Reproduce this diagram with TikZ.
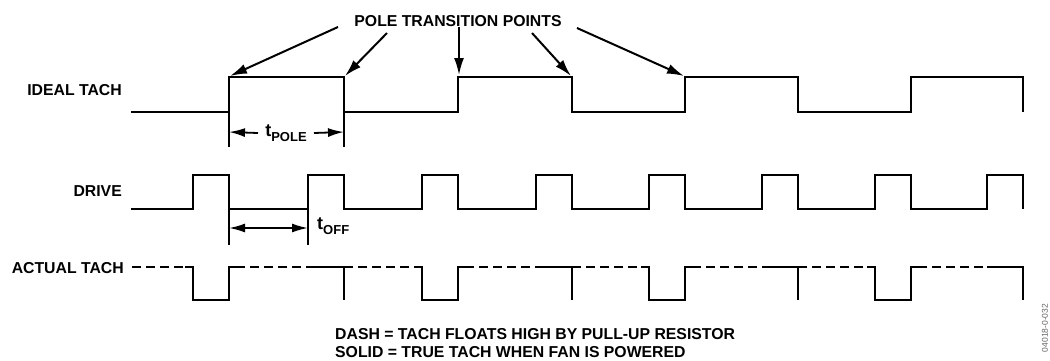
\documentclass[tikz,border=0pt]{standalone}
\usepackage{fontspec}
\setmainfont{Liberation Sans}
\usetikzlibrary{arrows.meta}
\tikzset{
  wave/.style={line width=2.9pt, line join=miter},
  float/.style={line width=2.9pt, dash pattern=on 9pt off 5pt},
  ptr/.style={line width=2pt, -{Latex[length=17pt,width=10pt]}},
  dim/.style={line width=1.8pt, -{Latex[length=16pt,width=9pt]}},
  ext/.style={line width=1.1pt},
  lbl/.style={font=\fontsize{15.8}{18}\selectfont\bfseries, inner sep=0pt},
}
\newcommand{\tsub}[1]{t{\fontsize{13}{13}\selectfont\raisebox{-4.5pt}{#1}}}
\begin{document}
\begin{tikzpicture}[x=1pt,y=-1pt]
\useasboundingbox (0,0) rectangle (1050,360);
% labels
\node[lbl, anchor=east] (lideal) at (122,90) {IDEAL TACH};
\node[lbl, anchor=east] (ldrive) at (122,191) {DRIVE};
\node[lbl, anchor=east] (lactual) at (124,268) {ACTUAL TACH};
\node[lbl] (ptp) at (458,21) {POLE TRANSITION POINTS};
\node[lbl, anchor=west, align=left] (note) at (335,343)
  {DASH = TACH FLOATS HIGH BY PULL-UP RESISTOR\\SOLID = TRUE TACH WHEN FAN IS POWERED};
\node[font=\fontsize{8.5}{8.5}\selectfont, text=black!60, rotate=90, inner sep=0pt] (fid) at (1045,328) {04018-0-032};
% ideal tach
\draw[wave] (131,112) -- (229,112) -- (229,77) -- (344,77) -- (344,112) -- (458,112) -- (458,77)
  -- (572,77) -- (572,112) -- (685,112) -- (685,77) -- (798,77) -- (798,112) -- (911,112)
  -- (911,77) -- (1023,77) -- (1023,112);
% transition points
\coordinate (p1) at (230,76);
\coordinate (p2) at (345,76);
\coordinate (p3) at (459,75);
\coordinate (p4) at (571,76);
\coordinate (p5) at (684,76);
\coordinate (s1) at (338,27);
\coordinate (s2) at (387,33);
\coordinate (s3) at (459,27);
\coordinate (s4) at (532,33);
\coordinate (s5) at (577,28);
\foreach \i in {1,...,5} \draw[ptr] (s\i) -- (p\i);
% drive
\draw[wave] (131,209) -- (193,209) -- (193,175) -- (229,175) -- (229,209)
  -- (308,209) -- (308,175) -- (344,175) -- (344,209)
  -- (422,209) -- (422,175) -- (458,175) -- (458,209)
  -- (536,209) -- (536,175) -- (572,175) -- (572,209)
  -- (649,209) -- (649,175) -- (685,175) -- (685,209)
  -- (762,209) -- (762,175) -- (798,175) -- (798,209)
  -- (875,209) -- (875,175) -- (911,175) -- (911,209)
  -- (987,209) -- (987,175) -- (1023,175) -- (1023,209);
% actual tach: floating (dashed)
\foreach \a/\b in {132/186, 236/308, 344/422, 465/536, 572/649, 692/762, 798/875, 918/987}
  \draw[float] (\a,267) -- (\b,267);
% actual tach: true (solid)
\foreach \s/\t in {193/229, 422/458, 649/685, 875/911}
  \draw[wave] (\s-8,267) -- (\s,267) -- (\s,300) -- (\t,300) -- (\t,267) -- (\t+7,267);
\foreach \s/\t in {308/344, 536/572, 762/798, 987/1023}
  \draw[wave] (\s,267) -- (\t,267) -- (\t,300);
% t_POLE dimension
\coordinate (pa) at (229,112); \coordinate (pa2) at (229,147);
\coordinate (pb) at (344,112); \coordinate (pb2) at (344,147);
\draw[ext] (pa) -- (pa2);
\draw[ext] (pb) -- (pb2);
\node[lbl, font=\fontsize{18}{18}\selectfont\bfseries] (tpole) at (286,133) {\tsub{POLE}};
\coordinate (pal) at (229,132); \coordinate (pbr) at (344,132);
\draw[dim] (tpole.west -| 258,132) -- (pal);
\draw[dim] (tpole.east -| 314,132) -- (pbr);
% t_OFF dimension
\coordinate (oa) at (229,209); \coordinate (oa2) at (229,245);
\coordinate (ob) at (308,209); \coordinate (ob2) at (308,245);
\draw[ext] (oa) -- (oa2);
\draw[ext] (ob) -- (ob2);
\coordinate (oal) at (229,228); \coordinate (obr) at (308,228);
\draw[line width=1.8pt, {Latex[length=16pt,width=9pt]}-{Latex[length=16pt,width=9pt]}] (oal) -- (obr);
\node[lbl, font=\fontsize{18}{18}\selectfont\bfseries, anchor=west] (toff) at (317,226) {\tsub{OFF}};
\end{tikzpicture}
\end{document}
